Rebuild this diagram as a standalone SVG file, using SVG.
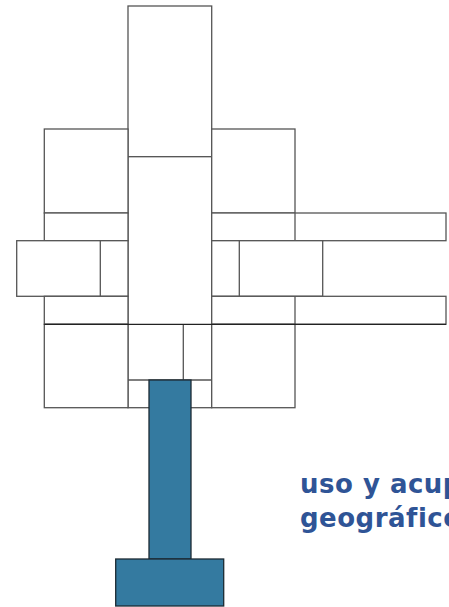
<svg xmlns="http://www.w3.org/2000/svg" width="449" height="607" viewBox="0 0 449 607">
<style>
.b{fill:#fff;stroke:#555;stroke-width:1.3}
.d{fill:none;stroke:#555;stroke-width:1.3}
.k{stroke:#222}
.blue{fill:#347aa0;stroke:#1c2a33;stroke-width:1.3}
.t{font-family:"DejaVu Sans",sans-serif;font-weight:bold;font-size:26px;letter-spacing:0.5px;fill:#2f5496}
</style>
<rect width="449" height="607" fill="#fff"/>
<g id="center-top"><rect class="b" x="128" y="6" width="83.7" height="150.7"/></g>
<g id="center-column"><rect class="b" x="128" y="156.7" width="83.7" height="251"/></g>
<g id="left-upper"><rect class="b" x="44.3" y="129" width="83.7" height="84"/></g>
<g id="left-band-1"><rect class="b" x="44.3" y="213" width="83.7" height="27.7"/></g>
<g id="left-wide"><rect class="b" x="16.7" y="240.7" width="111.3" height="55.6"/><line class="d" x1="100.3" y1="240.7" x2="100.3" y2="296.3"/></g>
<g id="left-band-2"><rect class="b" x="44.3" y="296.3" width="83.7" height="28"/></g>
<g id="left-lower"><rect class="b" x="44.3" y="324.3" width="83.7" height="83.4"/></g>
<g id="right-upper"><rect class="b" x="211.7" y="129" width="83.3" height="84"/></g>
<g id="right-band-1"><rect class="b" x="211.7" y="213" width="234.3" height="27.7"/><line class="d" x1="295" y1="213" x2="295" y2="240.7"/></g>
<g id="right-mid"><rect class="b" x="211.7" y="240.7" width="111" height="55.6"/><line class="d" x1="239.3" y1="240.7" x2="239.3" y2="296.3"/></g>
<g id="right-band-2"><rect class="b" x="211.7" y="296.3" width="234.3" height="28"/><line class="d" x1="295" y1="296.3" x2="295" y2="324.3"/></g>
<g id="right-lower"><rect class="b" x="211.7" y="324.3" width="83.3" height="83.4"/></g>
<g id="center-lower"><line class="d" x1="128" y1="380" x2="211.7" y2="380"/><line class="d" x1="183.3" y1="324.3" x2="183.3" y2="380"/><line class="d k" x1="44.3" y1="324.3" x2="446" y2="324.3"/></g>
<g id="pillar"><rect class="blue" x="149" y="380" width="42" height="179"/></g>
<g id="base"><rect class="blue" x="115.7" y="559" width="108" height="47"/></g>
<g id="connectors"></g>
<g id="label">
<text class="t" x="300" y="493.3">uso y acup</text>
<text class="t" x="300" y="526.7">geográfico</text>
</g>
</svg>
